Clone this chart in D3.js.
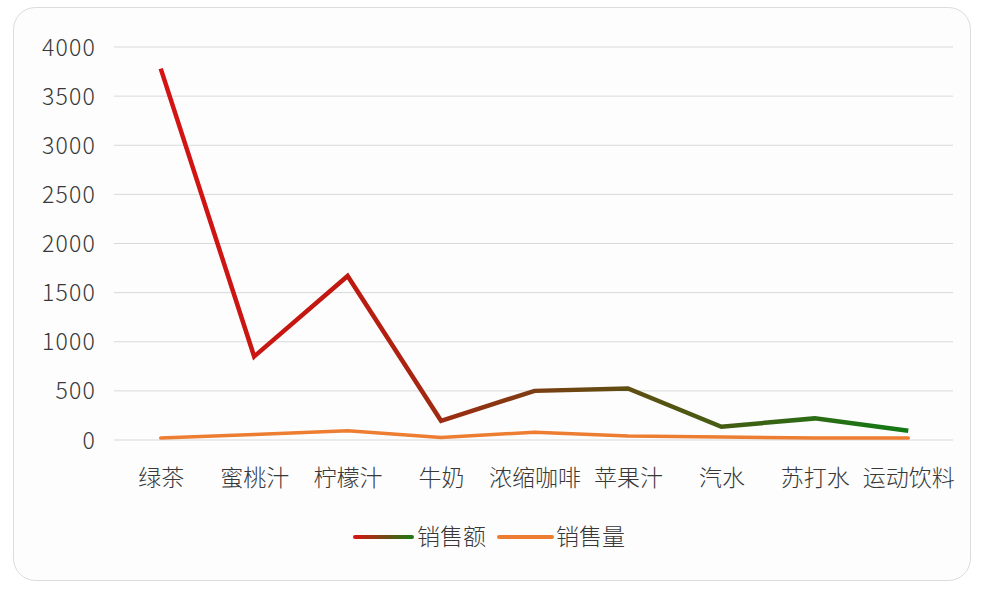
<!DOCTYPE html>
<html><head><meta charset="utf-8">
<script src="https://cdn.jsdelivr.net/npm/d3@7"></script>
<style>
html,body{margin:0;padding:0;background:#ffffff;}
svg{display:block;font-family:"Noto Sans CJK SC","Noto Sans",sans-serif;font-weight:300;}
</style></head>
<body>
<svg id="chart" width="988" height="592"></svg>
<script>
const categories = ["绿茶","蜜桃汁","柠檬汁","牛奶","浓缩咖啡","苹果汁","汽水","苏打水","运动饮料"];
const salesAmount = [3780, 850, 1670, 195, 500, 525, 135, 220, 95];
const salesVolume = [20, 55, 95, 25, 80, 40, 30, 20, 20];
const seriesNames = ["销售额","销售量"];
const yTicks = [0,500,1000,1500,2000,2500,3000,3500,4000];

const svg = d3.select("#chart");
svg.append("rect").attr("x",13.5).attr("y",7.5).attr("width",957).attr("height",573)
  .attr("rx",22).attr("fill","#fdfdfe").attr("stroke","#dcdcdc").attr("stroke-width",1);

const x = d3.scalePoint().domain(categories).range([114,955]).padding(0.5);
const y = d3.scaleLinear().domain([0,4000]).range([440,47]);

// gridlines
svg.append("g").selectAll("line").data(yTicks).join("line")
  .attr("x1",114).attr("x2",953)
  .attr("y1",d=>y(d)).attr("y2",d=>y(d))
  .attr("stroke","#d9d9d9").attr("stroke-width",1);

// y axis
const yAxis = d3.axisLeft(y).tickValues(yTicks).tickFormat(d3.format("d")).tickSize(0).tickPadding(0);
const gy = svg.append("g").attr("transform","translate(96,0)").call(yAxis);
gy.select(".domain").remove();
gy.selectAll("text").attr("font-size",23).attr("fill","#383838").attr("letter-spacing","1.2px")
  .attr("font-family","'Noto Sans CJK SC','Noto Sans',sans-serif").attr("font-weight",300).attr("dy","0.35em");

// x axis
const xAxis = d3.axisBottom(x).tickSize(0).tickPadding(0);
const gx = svg.append("g").attr("transform","translate(0,478)").call(xAxis);
gx.select(".domain").remove();
gx.selectAll("text").attr("font-size",23).attr("fill","#383838")
  .attr("font-family","'Noto Sans CJK SC',sans-serif").attr("font-weight",300).attr("dy","0.35em");

// gradient
const defs = svg.append("defs");
const grad = defs.append("linearGradient").attr("id","g1")
  .attr("gradientUnits","userSpaceOnUse")
  .attr("x1",x(categories[0])).attr("x2",x(categories[categories.length-1]))
  .attr("y1",0).attr("y2",0);
grad.append("stop").attr("offset","0%").attr("stop-color","#d41414");
grad.append("stop").attr("offset","25%").attr("stop-color","#c01810");
grad.append("stop").attr("offset","55%").attr("stop-color","#6e4512");
grad.append("stop").attr("offset","100%").attr("stop-color","#117a14");

const grad2 = defs.append("linearGradient").attr("id","g2")
  .attr("gradientUnits","userSpaceOnUse")
  .attr("x1",355).attr("x2",412).attr("y1",0).attr("y2",0);
grad2.append("stop").attr("offset","0%").attr("stop-color","#d41414");
grad2.append("stop").attr("offset","100%").attr("stop-color","#1d7a14");

const line = d3.line().x((d,i)=>x(categories[i])).y(d=>y(d));

svg.append("path").datum(salesVolume).attr("d",line)
  .attr("fill","none").attr("stroke","#ed7d31").attr("stroke-width",3.5)
  .attr("stroke-linejoin","round").attr("stroke-linecap","round");
svg.append("path").datum(salesAmount).attr("d",line)
  .attr("fill","none").attr("stroke","url(#g1)").attr("stroke-width",4.5)
  .attr("stroke-linejoin","miter").attr("stroke-linecap","butt");

// legend
const leg = svg.append("g");
leg.append("line").attr("x1",355).attr("x2",412).attr("y1",537).attr("y2",537)
  .attr("stroke","url(#g2)").attr("stroke-width",4).attr("stroke-linecap","round");
leg.append("text").attr("x",417).attr("y",537).attr("dy","0.35em")
  .attr("font-size",23).attr("fill","#383838").text(seriesNames[0]);
leg.append("line").attr("x1",499).attr("x2",552).attr("y1",537).attr("y2",537)
  .attr("stroke","#ed7d31").attr("stroke-width",4).attr("stroke-linecap","round");
leg.append("text").attr("x",556).attr("y",537).attr("dy","0.35em")
  .attr("font-size",23).attr("fill","#383838").text(seriesNames[1]);
</script>
</body></html>
